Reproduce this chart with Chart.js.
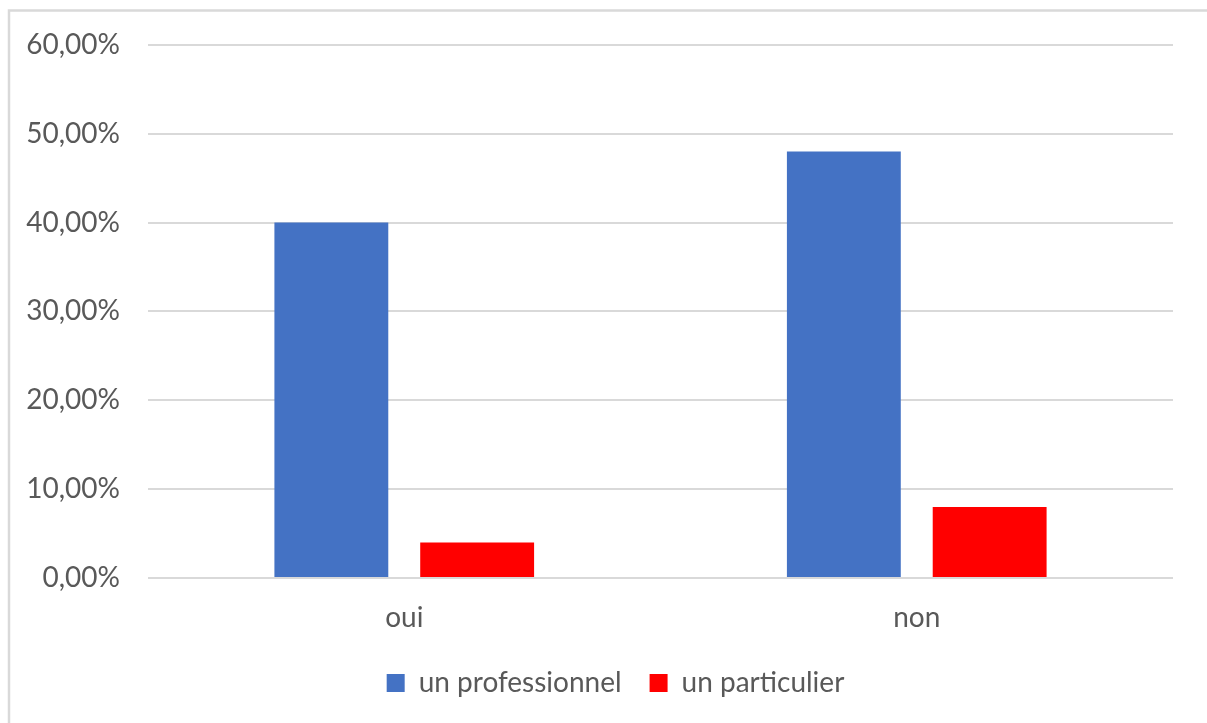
<!DOCTYPE html>
<html>
<head>
<meta charset="utf-8">
<script src="https://cdn.jsdelivr.net/npm/chart.js@4"></script>
<style>
  html, body { margin: 0; padding: 0; background: #fff; }
  #wrap { position: absolute; left: 0; top: 0; width: 1207px; height: 723px; }
</style>
</head>
<body>
<div id="wrap"><canvas id="c" width="1207" height="723"></canvas></div>
<script>
const categories = ['oui', 'non'];
const professionnel = [40, 48];
const particulier = [4, 8];
const seriesNames = ['un professionnel', 'un particulier'];
const yTicks = [0, 10, 20, 30, 40, 50, 60];

const FONT = 'Lato, "Open Sans", sans-serif';
const GRAY = '#595959';

const frame = {
  id: 'frame',
  beforeDraw(chart) {
    const ctx = chart.ctx;
    ctx.save();
    ctx.fillStyle = '#ffffff';
    ctx.fillRect(0, 0, chart.width, chart.height);
    ctx.strokeStyle = '#d9d9d9';
    ctx.lineWidth = 2.5;
    ctx.beginPath();
    ctx.moveTo(9, chart.height);
    ctx.lineTo(9, 10.5);
    ctx.lineTo(chart.width, 10.5);
    ctx.stroke();
    ctx.restore();
  }
};

const legendShift = {
  id: 'legendShift',
  afterLayout(chart) {
    const lg = chart.legend;
    if (lg) { lg.left += 29; lg.right += 29; }
  }
};

new Chart(document.getElementById('c'), {
  type: 'bar',
  data: {
    labels: categories,
    datasets: [
      { label: seriesNames[0], data: professionnel, backgroundColor: '#4472C4',
        categoryPercentage: 0.569, barPercentage: 0.781 },
      { label: seriesNames[1], data: particulier, backgroundColor: '#FF0000',
        categoryPercentage: 0.569, barPercentage: 0.781 }
    ]
  },
  options: {
    responsive: false,
    animation: false,
    layout: { padding: { left: 0, right: 34, top: 38, bottom: 16 } },
    plugins: {
      legend: {
        position: 'bottom',
        labels: {
          boxWidth: 18, boxHeight: 18, padding: 28,
          color: GRAY,
          font: { family: FONT, size: 28 }
        }
      },
      tooltip: { enabled: false }
    },
    scales: {
      x: {
        afterFit(scale) { scale.height = 63; },
        grid: { display: false, drawTicks: false },
        border: { display: false },
        ticks: { color: GRAY, padding: 23, font: { family: FONT, size: 28 } }
      },
      y: {
        min: 0, max: 60,
        afterFit(scale) { scale.width = 148; },
        afterBuildTicks(scale) { scale.ticks = yTicks.map(v => ({ value: v })); },
        grid: { color: '#d9d9d9', lineWidth: 2, drawTicks: false },
        border: { display: false },
        ticks: {
          color: GRAY, padding: 28,
          font: { family: FONT, size: 28 },
          callback: v => v.toFixed(2).replace('.', ',') + '%'
        }
      }
    }
  },
  plugins: [frame, legendShift]
});
</script>
</body>
</html>
